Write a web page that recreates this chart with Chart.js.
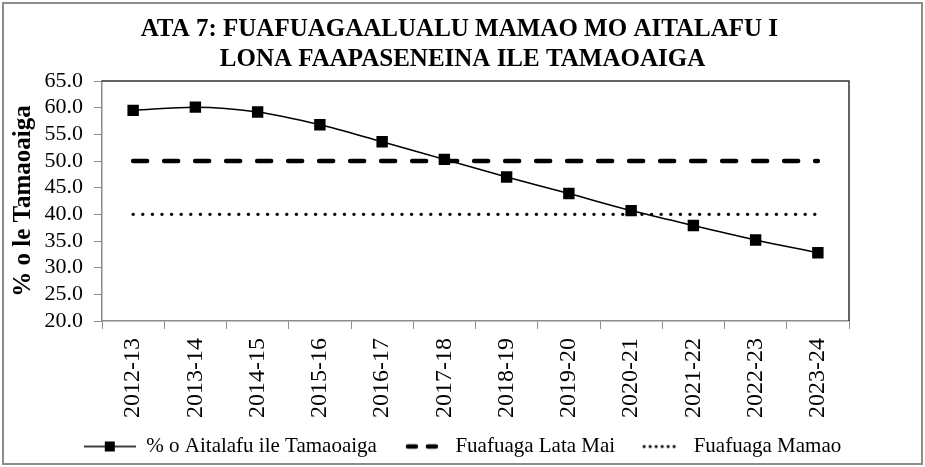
<!DOCTYPE html>
<html>
<head>
<meta charset="utf-8">
<script src="https://cdn.jsdelivr.net/npm/chart.js@4"></script>
<style>
  html, body { margin: 0; padding: 0; background: #fff; }
  #wrap { width: 925px; height: 467px; }
</style>
</head>
<body>
<div id="wrap"><canvas id="ataChart" width="925" height="467"></canvas></div>
<script>
// data
const years = ['2012-13', '2013-14', '2014-15', '2015-16', '2016-17', '2017-18',
  '2018-19', '2019-20', '2020-21', '2021-22', '2022-23', '2023-24'];
const debtRatio = [59.5, 60.1, 59.2, 56.8, 53.6, 50.3, 47.0, 43.9, 40.7, 37.9, 35.2, 32.8];
const shortTarget = [50, 50, 50, 50, 50, 50, 50, 50, 50, 50, 50, 50];
const longTarget = [40, 40, 40, 40, 40, 40, 40, 40, 40, 40, 40, 40];
const seriesNames = ['% o Aitalafu ile Tamaoaiga', 'Fuafuaga Lata Mai', 'Fuafuaga Mamao'];
const titleLines = ['ATA 7: FUAFUAGAALUALU MAMAO MO AITALAFU I ', 'LONA FAAPASENEINA ILE TAMAOAIGA'];
const yTitle = '% o le Tamaoaiga';

const SERIF = "'Liberation Serif', 'Times New Roman', serif";

// little legend symbols drawn on canvases
function legendIcon(kind) {
  const c = document.createElement('canvas');
  c.width = 52; c.height = 14;
  const g = c.getContext('2d');
  g.strokeStyle = '#000';
  g.fillStyle = '#000';
  if (kind === 'marker') {
    g.lineWidth = 1.5;
    g.beginPath(); g.moveTo(0, 7); g.lineTo(52, 7); g.stroke();
    g.fillRect(21, 2, 10, 10);
  } else if (kind === 'dash') {
    g.lineWidth = 4.5;
    g.lineCap = 'round';
    g.beginPath(); g.moveTo(15, 7); g.lineTo(23, 7); g.stroke();
    g.beginPath(); g.moveTo(35, 7); g.lineTo(43, 7); g.stroke();
  } else {
    for (let x = 13; x < 48; x += 6) {
      g.beginPath(); g.arc(x, 7, 1.6, 0, Math.PI * 2); g.fill();
    }
  }
  return c;
}

const framePlugin = {
  id: 'frame',
  beforeDraw(chart) {
    const ctx = chart.ctx;
    ctx.save();
    ctx.fillStyle = '#fff';
    ctx.fillRect(0, 0, chart.width, chart.height);
    ctx.strokeStyle = '#8c8c8c';
    ctx.lineWidth = 2;
    ctx.strokeRect(3, 3, chart.width - 6, chart.height - 6);
    ctx.restore();
  },
  afterDatasetsDraw(chart) {
    const a = chart.chartArea;
    const ctx = chart.ctx;
    ctx.save();
    ctx.strokeStyle = '#333';
    ctx.lineWidth = 1.5;
    ctx.beginPath();
    ctx.moveTo(a.left, a.top);
    ctx.lineTo(a.right, a.top);
    ctx.lineTo(a.right, a.bottom);
    ctx.stroke();
    ctx.restore();
  }
};

function renderChart() {
  const ctx = document.getElementById('ataChart').getContext('2d');
  new Chart(ctx, {
    type: 'line',
    data: {
      labels: years,
      datasets: [
        {
          label: seriesNames[0],
          data: debtRatio,
          borderColor: '#000',
          backgroundColor: '#000',
          borderWidth: 1.5,
          cubicInterpolationMode: 'monotone',
          pointStyle: 'rect',
          pointRadius: 7,
          pointHoverRadius: 7
        },
        {
          label: seriesNames[1],
          data: shortTarget,
          borderColor: '#000',
          borderWidth: 4.5,
          borderDash: [14, 17],
          borderCapStyle: 'round',
          pointRadius: 0
        },
        {
          label: seriesNames[2],
          data: longTarget,
          borderColor: '#000',
          borderWidth: 3.4,
          borderDash: [0.1, 9.5],
          borderCapStyle: 'round',
          pointRadius: 0
        }
      ]
    },
    options: {
      responsive: false,
      animation: false,
      layout: { padding: { left: 8, right: 8, top: 0, bottom: 0 } },
      plugins: {
        title: {
          display: true,
          text: titleLines,
          color: '#000',
          font: { family: SERIF, size: 25, weight: 'bold', lineHeight: 1.2 },
          padding: { top: 15, bottom: 6 }
        },
        legend: {
          position: 'bottom',
          labels: {
            color: '#000',
            font: { family: SERIF, size: 21 },
            usePointStyle: true,
            pointStyleWidth: 52,
            padding: 16,
            generateLabels(chart) {
              const icons = [legendIcon('marker'), legendIcon('dash'), legendIcon('dot')];
              return chart.data.datasets.map((ds, i) => ({
                text: ds.label,
                pointStyle: icons[i],
                fillStyle: '#000',
                strokeStyle: '#000',
                lineWidth: 0,
                fontColor: '#000',
                hidden: false,
                datasetIndex: i
              }));
            }
          }
        },
        tooltip: { enabled: false }
      },
      scales: {
        x: {
          offset: true,
          afterFit(scale) { scale.height = 99; },
          grid: { offset: true, drawOnChartArea: false, drawTicks: true, tickLength: 8, color: '#8c8c8c' },
          border: { color: '#8c8c8c', width: 1.5 },
          ticks: {
            color: '#000',
            font: { family: SERIF, size: 24 },
            maxRotation: 90,
            minRotation: 90,
            padding: 9,
            autoSkip: false
          }
        },
        y: {
          min: 20,
          max: 65,
          afterFit(scale) { scale.width = 94; },
          grid: { drawOnChartArea: false, drawTicks: true, tickLength: 8, color: '#8c8c8c' },
          border: { color: '#8c8c8c', width: 1.5 },
          ticks: {
            stepSize: 5,
            autoSkip: false,
            color: '#000',
            font: { family: SERIF, size: 22 },
            padding: 11,
            callback: v => v.toFixed(1)
          },
          title: {
            display: true,
            text: yTitle,
            color: '#000',
            font: { family: SERIF, size: 25, weight: 'bold', lineHeight: 1.1 },
            padding: { top: 2, bottom: 0 }
          }
        },
        // empty right-hand gutter, as in the reference
        gutter: {
          type: 'linear',
          position: 'right',
          display: true,
          afterFit(scale) { scale.width = 68; },
          grid: { display: false },
          border: { display: false },
          ticks: { display: false }
        }
      }
    },
    plugins: [framePlugin]
  });
}

window.onload = function () {
  renderChart();
};
</script>
</body>
</html>
